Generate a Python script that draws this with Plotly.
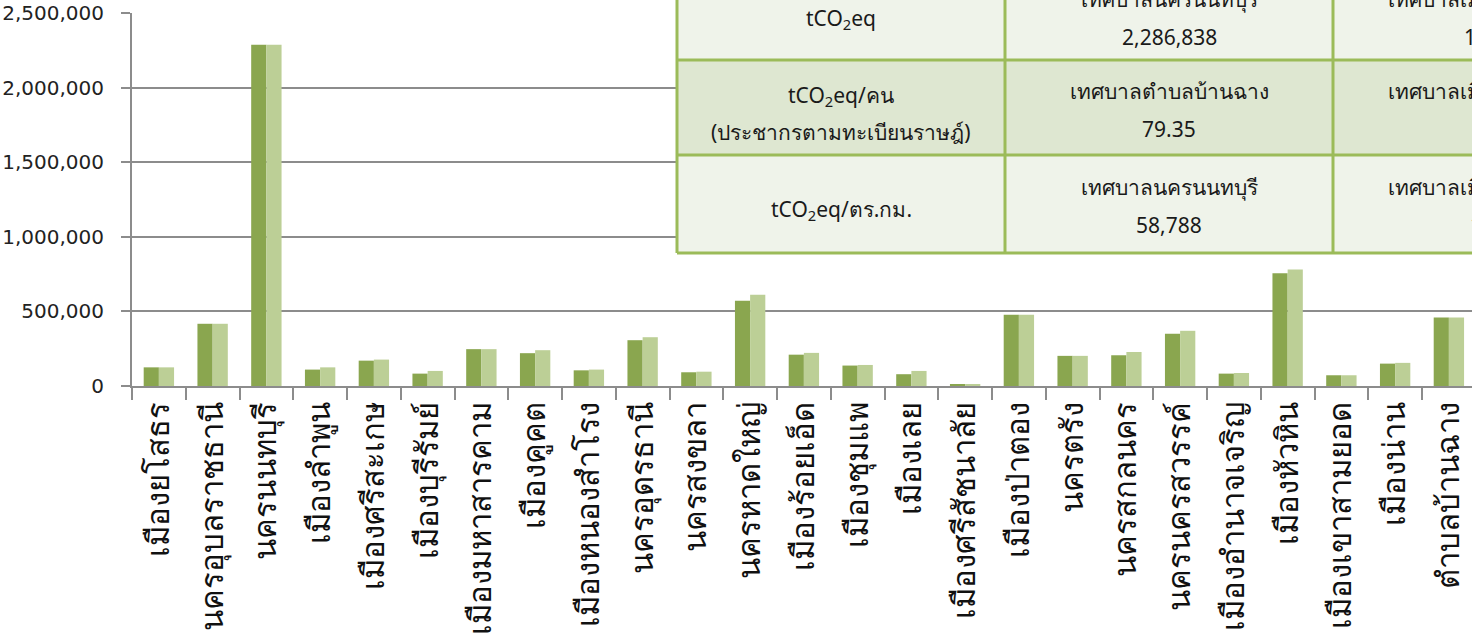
import plotly.graph_objects as go

categories = [
    "เมืองยโสธร", "นครอุบลราชธานี", "นครนนทบุรี", "เมืองลำพูน", "เมืองศรีสะเกษ",
    "เมืองบุรีรัมย์", "เมืองมหาสารคาม", "เมืองคูคต", "เมืองหนองสำโรง", "นครอุดรธานี",
    "นครสงขลา", "นครหาดใหญ่", "เมืองร้อยเอ็ด", "เมืองชุมแพ", "เมืองเลย",
    "เมืองศรีสัชนาลัย", "เมืองป่าตอง", "นครตรัง", "นครสกลนคร", "นครนครสวรรค์",
    "เมืองอำนาจเจริญ", "เมืองหัวหิน", "เมืองเขาสามยอด", "เมืองน่าน", "ตำบลบ้านฉาง",
]
series_a = [125000, 417000, 2286838, 110000, 170000, 83000, 247000, 220000, 105000, 307000,
            92000, 571000, 210000, 137000, 79000, 12000, 477000, 202000, 206000, 351000,
            83000, 755000, 72000, 150000, 459000]
series_b = [125000, 417000, 2286838, 125000, 177000, 101000, 247000, 240000, 110000, 327000,
            96000, 611000, 222000, 141000, 101000, 9000, 477000, 202000, 228000, 370000,
            87000, 780000, 72000, 155000, 459000]

table_rows = ["tCO<sub>2</sub>eq", "tCO<sub>2</sub>eq/คน", "tCO<sub>2</sub>eq/ตร.กม."]
table_row_sub = ["", "(ประชากรตามทะเบียนราษฎ์)", ""]
table_col2_names = ["เทศบาลนครนนทบุรี", "เทศบาลตำบลบ้านฉาง", "เทศบาลนครนนทบุรี"]
table_col2_vals = ["2,286,838", "79.35", "58,788"]
table_col3_names = ["เทศบาลเมืองศรีสัชนาลัย", "เทศบาลเมืองศรีสัชนาลัย", "เทศบาลเมืองศรีสัชนาลัย"]
table_col3_vals = ["10,561", "0.83", "1,018"]

DARK = "#8AA64F"
LIGHT = "#BCCF96"
GRID = "#8C8C8C"
FONT = "Noto Sans, DejaVu Sans, sans-serif"

fig = go.Figure()
fig.add_trace(go.Bar(x=categories, y=series_a, marker=dict(color=DARK, line=dict(width=0)), showlegend=False))
fig.add_trace(go.Bar(x=categories, y=series_b, marker=dict(color=LIGHT, line=dict(width=0)), showlegend=False))

W, H = 1472, 643
L, R, T, B = 132, 0, 13, 257
pw, ph = W - L - R, H - T - B

fig.update_layout(
    width=W, height=H,
    margin=dict(l=L, r=R, t=T, b=B, pad=0),
    paper_bgcolor="white", plot_bgcolor="white",
    barmode="group", bargap=0.435, bargroupgap=0,
    font=dict(family=FONT, color="#222222"),
)
fig.update_yaxes(
    range=[0, 2500000], dtick=500000, tickformat=",",
    showgrid=True, gridcolor=GRID, gridwidth=2,
    showline=True, linecolor=GRID, linewidth=2,
    ticks="outside", ticklen=9, tickcolor=GRID, tickwidth=2,
    tickfont=dict(size=20, family="DejaVu Sans, sans-serif", color="#222222"),
    ticklabelstandoff=13, zeroline=False,
)
fig.update_xaxes(
    type="category", range=[-0.5, 24.43],
    showline=True, linecolor=GRID, linewidth=2,
    ticks="outside", ticklen=12, tickcolor=GRID, tickwidth=2, tickson="boundaries",
    tickangle=-90, showgrid=False,
    tickfont=dict(size=31, family=FONT, color="#111111"),
    ticklabelstandoff=2,
)

def px(x):
    return (x - L) / pw

def py(y):
    return (H - B - y) / ph

col_x = [677, 1005, 1333, 1661]
row_y = [-28, 60, 155, 253]
row_bg = ["#EFF3EA", "#DEE7D1", "#EFF3EA"]
BORDER = "#9BBB59"

shapes = []
for i in range(3):
    shapes.append(dict(type="rect", xref="paper", yref="paper",
                       x0=px(col_x[0]), x1=px(col_x[3]), y0=py(row_y[i + 1]), y1=py(row_y[i]),
                       fillcolor=row_bg[i], line=dict(width=0), layer="above"))
for yv in row_y:
    shapes.append(dict(type="line", xref="paper", yref="paper",
                       x0=px(col_x[0]), x1=px(col_x[3]), y0=py(yv), y1=py(yv),
                       line=dict(color=BORDER, width=3), layer="above"))
for xv in col_x:
    shapes.append(dict(type="line", xref="paper", yref="paper",
                       x0=px(xv), x1=px(xv), y0=py(row_y[0]), y1=py(row_y[3]),
                       line=dict(color=BORDER, width=3), layer="above"))
fig.update_layout(shapes=shapes)

anns = []
tf = dict(family=FONT, size=21, color="#1a1a1a")

def add(text, xc, yc):
    anns.append(dict(text=text, xref="paper", yref="paper", x=px(xc), y=py(yc),
                     xanchor="center", yanchor="middle", showarrow=False, font=tf))

for i in range(3):
    yc = (row_y[i] + row_y[i + 1]) / 2
    c1 = (col_x[0] + col_x[1]) / 2
    c2 = (col_x[1] + col_x[2]) / 2
    c3 = (col_x[2] + col_x[3]) / 2
    if table_row_sub[i]:
        add(table_rows[i], c1, yc - 12)
        add(table_row_sub[i], c1, yc + 24)
    elif i == 0:
        add(table_rows[i], c1, yc + 3)
    else:
        add(table_rows[i], c1, yc + 6)
    add(table_col2_names[i], c2, yc - 17)
    add(table_col2_vals[i], c2, yc + 21)
    add(table_col3_names[i], c3, yc - 17)
    add(table_col3_vals[i], c3, yc + 21)
fig.update_layout(annotations=anns)

fig.write_html("out.html")
